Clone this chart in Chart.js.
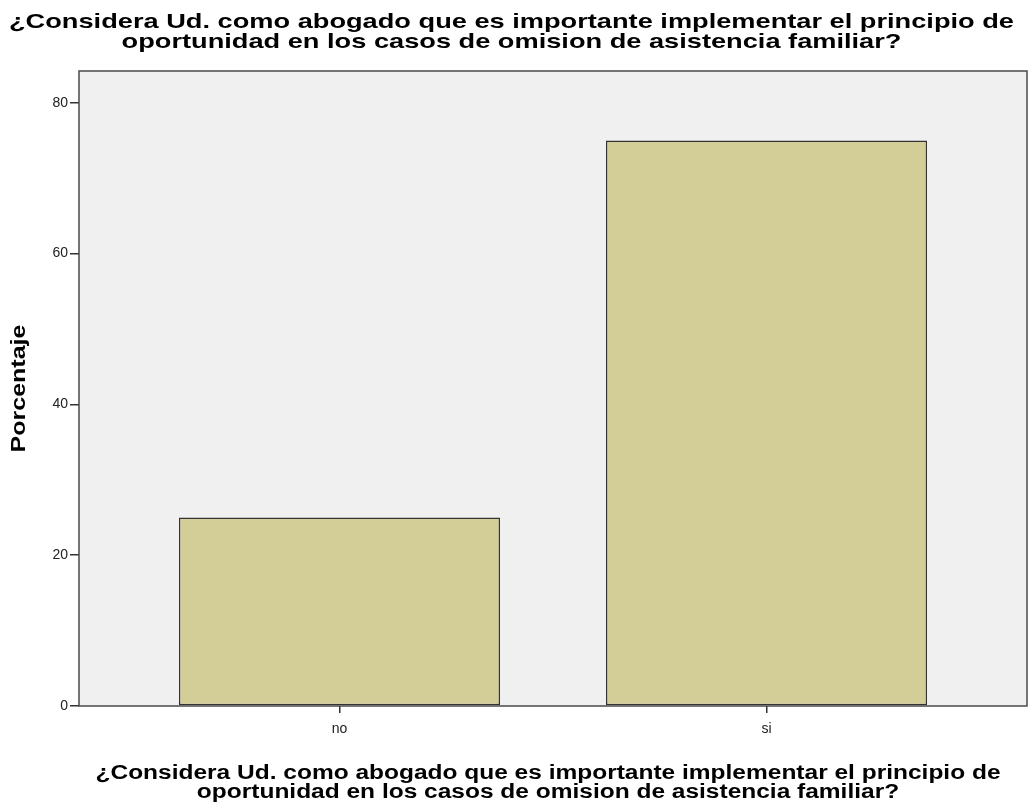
<!DOCTYPE html>
<html>
<head>
<meta charset="utf-8">
<script src="https://cdn.jsdelivr.net/npm/chart.js@4"></script>
<style>
  html, body { margin: 0; padding: 0; background: #fff; }
  #wrap { width: 1029px; height: 807px; }
</style>
</head>
<body>
<div id="wrap"><canvas id="chart"></canvas></div>
<script>
const question = [
  '¿Considera Ud. como abogado que es importante implementar el principio de',
  'oportunidad en los casos de omision de asistencia familiar?'
];
const yTitle = 'Porcentaje';
const categories = ['no', 'si'];
const percentages = [25, 75];
const yTicks = [0, 20, 40, 60, 80];

// SPSS draws its bold titles wide; stretch them horizontally to match
function wideText(ctx, lines, cx, cy, size, lineH, targetW) {
  ctx.font = 'bold ' + size + 'px "Liberation Sans"';
  const k = targetW / ctx.measureText(lines[0]).width;
  ctx.textAlign = 'center';
  ctx.textBaseline = 'middle';
  lines.forEach((t, i) => {
    ctx.save();
    ctx.translate(cx, cy + i * lineH);
    ctx.scale(k, 1);
    ctx.fillText(t, 0, 0);
    ctx.restore();
  });
}

const plotFrame = {
  id: 'plotFrame',
  beforeDatasetsDraw(chart) {
    const { ctx, chartArea: a } = chart;
    ctx.save();
    ctx.fillStyle = '#f0f0f0';
    ctx.fillRect(a.left, a.top, a.right - a.left, a.bottom - a.top);
    ctx.restore();
  },
  afterDatasetsDraw(chart) {
    const { ctx, chartArea: a } = chart;
    ctx.save();
    ctx.strokeStyle = '#4a4a4a';
    ctx.lineWidth = 1.5;
    ctx.strokeRect(a.left, a.top, a.right - a.left, a.bottom - a.top);
    ctx.restore();
  },
  afterDraw(chart) {
    const { ctx, chartArea: a, width } = chart;
    ctx.save();
    ctx.fillStyle = '#000';
    wideText(ctx, question, width / 2 - 3, 22, 21, 20, 1005);
    wideText(ctx, question, (a.left + a.right) / 2 - 5, 773, 20, 19.5, 905);
    ctx.translate(19, (a.top + a.bottom) / 2);
    ctx.rotate(-Math.PI / 2);
    wideText(ctx, [yTitle], 0, 0, 21, 0, 128);
    ctx.restore();
  }
};

const ctx = document.getElementById('chart').getContext('2d');
new Chart(ctx, {
  type: 'bar',
  data: {
    datasets: [{
      label: yTitle,
      data: categories.map((c, i) => ({ x: i, y: percentages[i] })),
      backgroundColor: '#d3ce97',
      borderColor: '#333',
      borderWidth: 1.5,
      borderSkipped: false,
      barPercentage: 0.752,
      categoryPercentage: 1
    }]
  },
  options: {
    responsive: true,
    maintainAspectRatio: false,
    animation: false,
    layout: { padding: { top: 71, right: 2 } },
    plugins: {
      legend: { display: false },
      tooltip: { enabled: false },
      title: { display: false }
    },
    scales: {
      x: {
        type: 'linear',
        offset: false,
        min: -0.61,
        max: 1.61,
        afterBuildTicks: s => { s.ticks = categories.map((c, i) => ({ value: i })); },
        afterFit: s => { s.height = 101; },
        ticks: {
          callback: v => categories[v],
          color: '#222',
          padding: 8,
          font: { family: 'Liberation Sans', size: 14 }
        },
        grid: { offset: false, drawOnChartArea: false, drawTicks: true, tickLength: 7, color: '#333', lineWidth: 1.5 },
        border: { display: false }
      },
      y: {
        min: 0,
        max: 84.2,
        afterBuildTicks: s => { s.ticks = yTicks.map(v => ({ value: v })); },
        afterFit: s => { s.width = 79; },
        ticks: {
          color: '#222',
          padding: 2,
          font: { family: 'Liberation Sans', size: 14 }
        },
        grid: { drawOnChartArea: false, drawTicks: true, tickLength: 9, color: '#333', lineWidth: 1.5 },
        border: { display: false }
      }
    }
  },
  plugins: [plotFrame]
});
</script>
</body>
</html>
